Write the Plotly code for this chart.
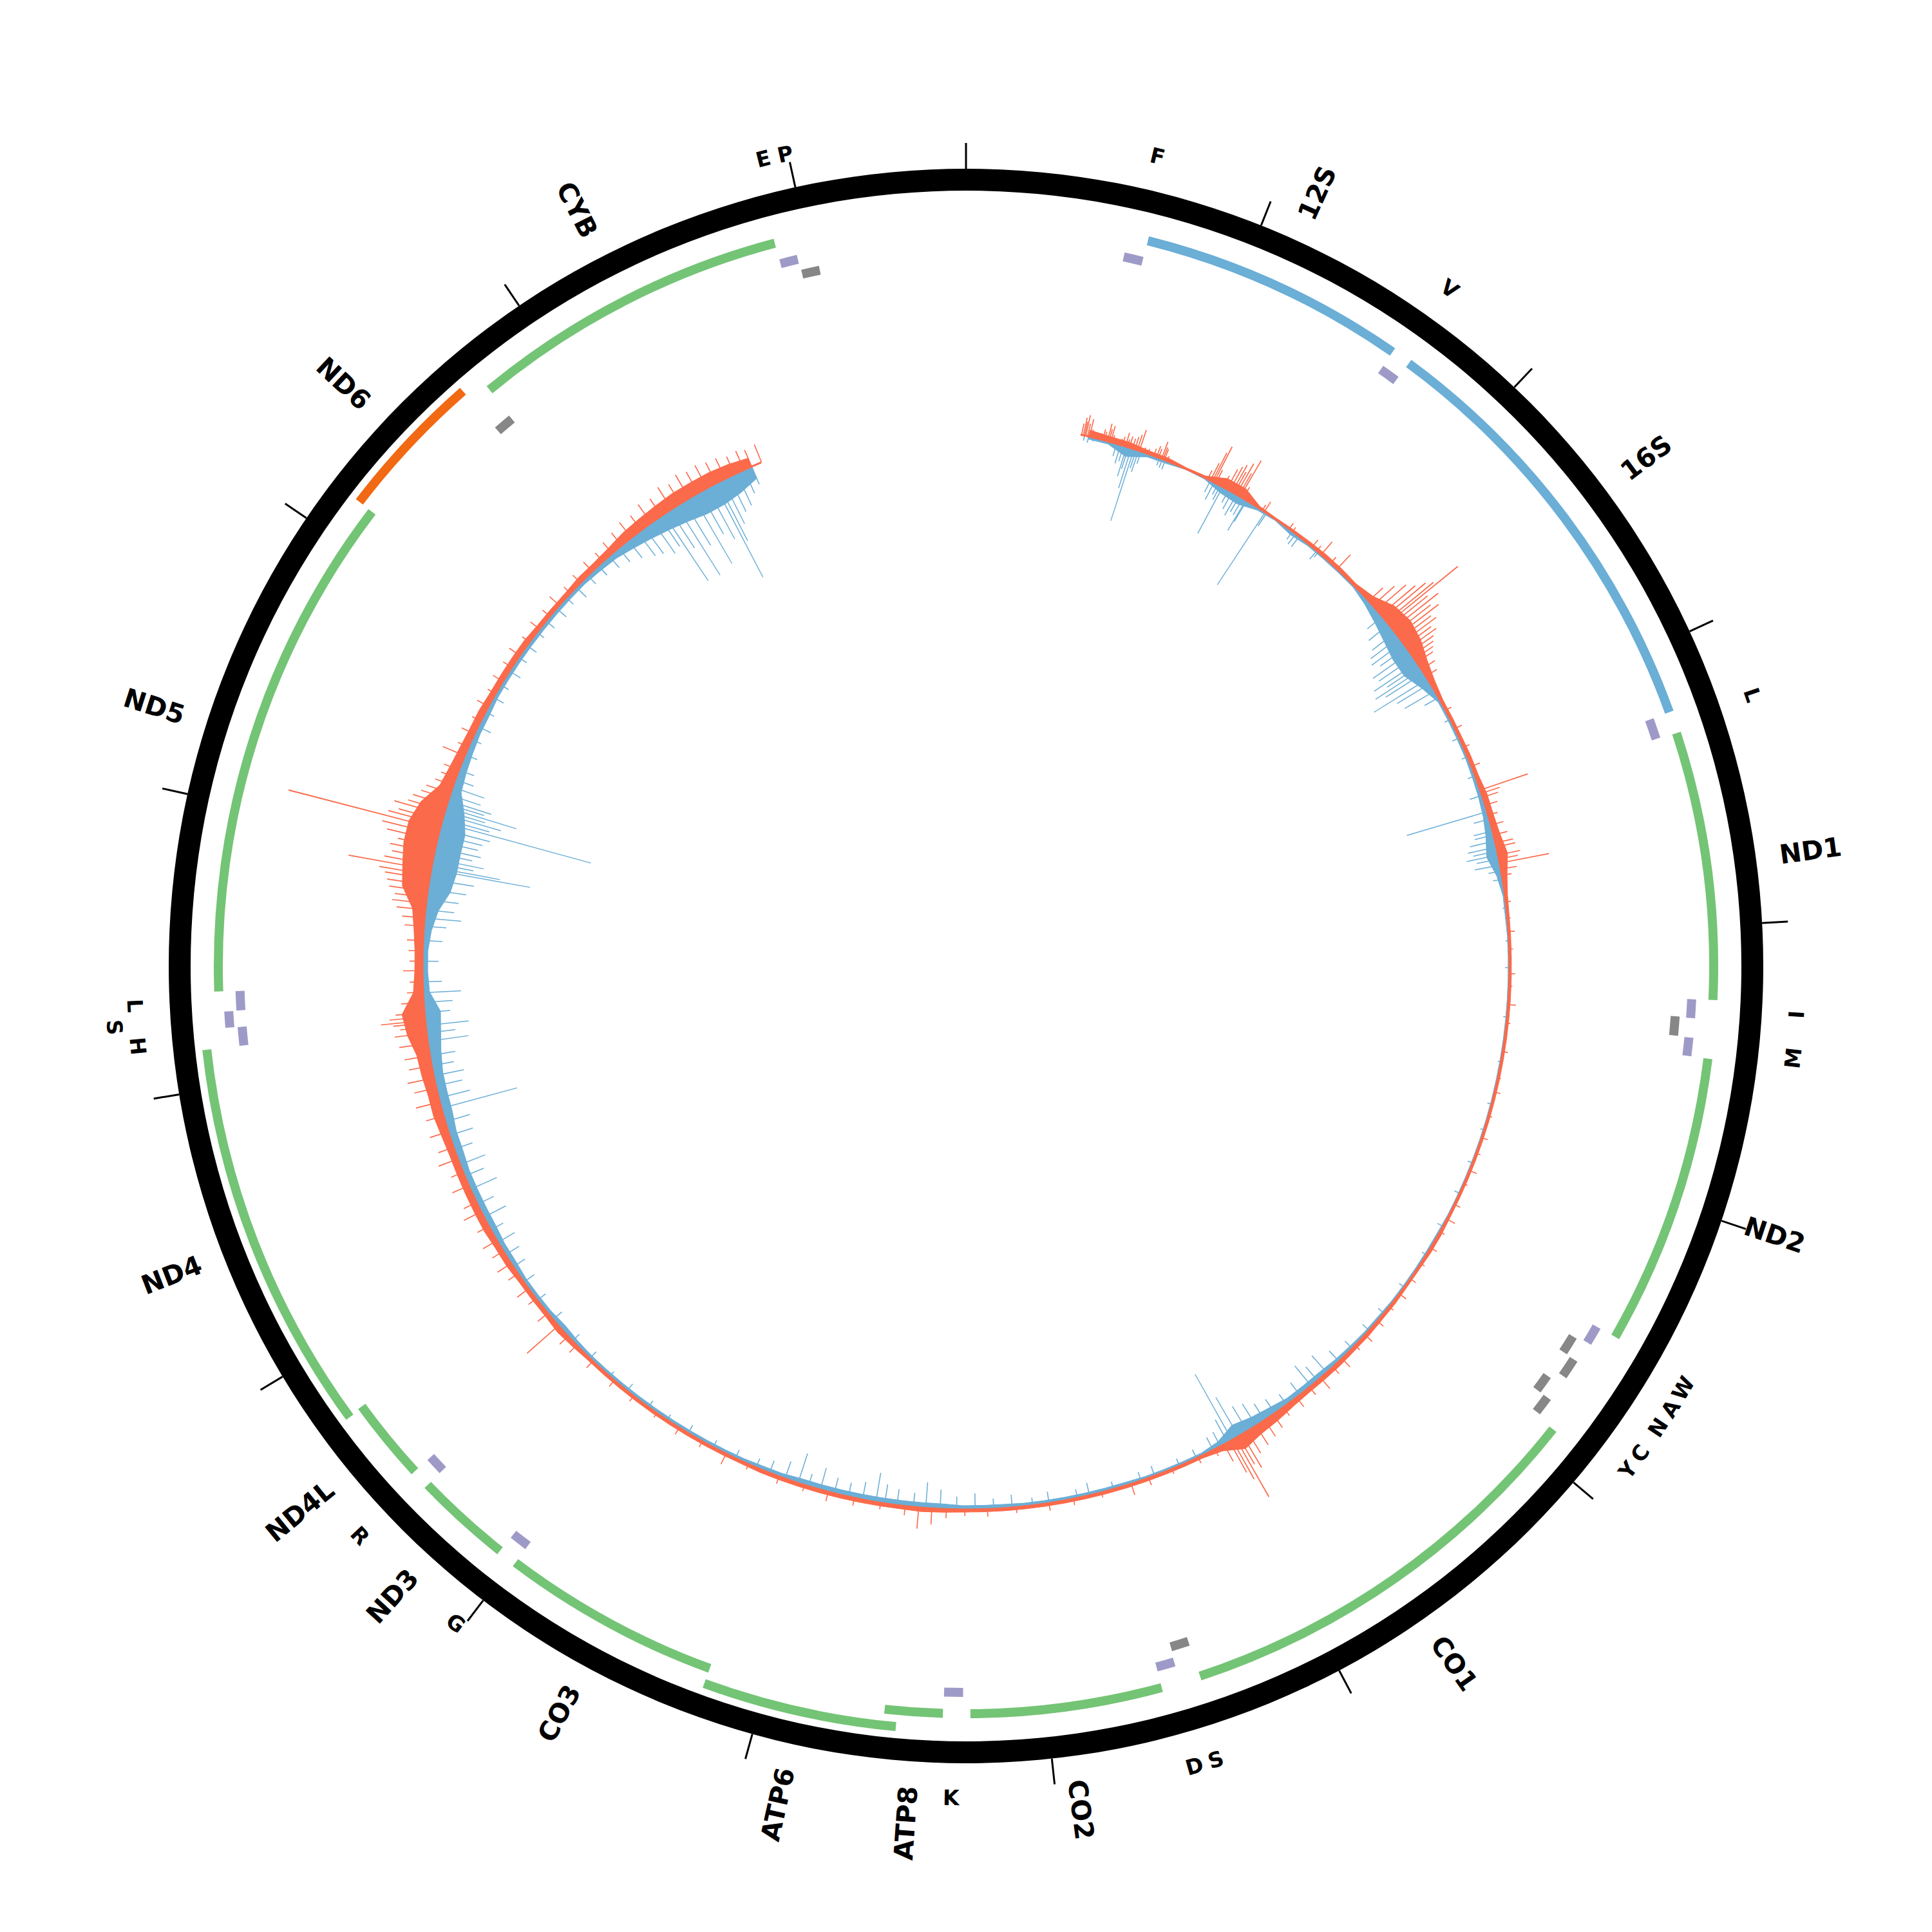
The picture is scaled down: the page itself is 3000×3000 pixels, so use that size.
import numpy as np
import plotly.graph_objects as go

GENOME_LEN = 16569
TICK_STEP = 1000

# ---------------- features (rCRS) ----------------
gene_names = ["12S", "16S", "ND1", "ND2", "CO1", "CO2", "ATP8", "ATP6", "CO3",
              "ND3", "ND4L", "ND4", "ND5", "ND6", "CYB"]
gene_start = [648, 1671, 3307, 4470, 5904, 7586, 8366, 8527, 9207,
              10059, 10470, 10760, 12337, 14149, 14747]
gene_end = [1601, 3229, 4262, 5511, 7445, 8269, 8572, 9207, 9990,
            10404, 10766, 12137, 14148, 14673, 15887]
gene_kind = ["rRNA", "rRNA", "CDS+", "CDS+", "CDS+", "CDS+", "CDS+", "CDS+", "CDS+",
             "CDS+", "CDS+", "CDS+", "CDS+", "CDS-", "CDS+"]
gene_level = [0, 0, 0, 0, 0, 0, 0, 1, 0, 0, 0, 1, 0, 1, 0]

trna_names = ["F", "V", "L", "I", "Q", "M", "W", "A", "N", "C", "Y", "S", "D", "K",
              "G", "R", "H", "S", "L", "E", "T", "P"]
trna_start = [577, 1602, 3230, 4263, 4329, 4402, 5512, 5587, 5657, 5761, 5826, 7446,
              7518, 8295, 9991, 10405, 12138, 12207, 12266, 14674, 15888, 15956]
trna_end = [647, 1670, 3304, 4331, 4400, 4469, 5579, 5655, 5729, 5826, 5891, 7514,
            7585, 8364, 10058, 10469, 12206, 12265, 12336, 14742, 15953, 16023]
trna_strand = ["+", "+", "+", "+", "-", "+", "+", "-", "-", "-", "-", "-",
               "+", "+", "+", "+", "+", "+", "+", "-", "+", "-"]
trna_level = [0, 0, 0, 0, 0, 0, 0, 0, 1, 0, 1, 0, 0, 0, 0, 0, 0, 1, 0, 0, 0, 0]

# tRNA labels as printed on the figure
tlabel_text = ["F", "V", "L", "I", "M", "W", "A", "N", "C", "Y", "S", "D", "K", "G",
               "R", "H", "S", "L", "E", "P"]
tlabel_pos = [612, 1636, 3267, 4297, 4435, 5545, 5621, 5693, 5793, 5858, 7480, 7551,
              8330, 10025, 10437, 12172, 12236, 12301, 15920, 15990]
tlabel_level = [0, 0, 0, 0, 0, 0, 0, 0, 0, 0, 0, 0, 0, 0, 0, 0, 1, 0, 0, 0]

# ---------------- signal track ----------------
core_pos = list(range(600, 15501, 100))
red_core = [10, 8, 8, 5, 5, 2, 3, 15, 15, 3,
            2, 3, 4, 5, 5, 4, 10, 25, 30, 25,
            15, 8, 4, 4, 4, 5, 5, 8, 8, 10,
            15, 8, 4, 3, 3, 3, 3, 3, 3, 3,
            3, 3, 3, 3, 3, 3, 3, 3, 3, 4,
            4, 3, 3, 4, 4, 5, 5, 6, 6, 6,
            8, 12, 15, 22, 8, 4, 4, 4, 4, 4,
            4, 4, 4, 4, 4, 4, 4, 4, 5, 6,
            5, 5, 5, 5, 5, 5, 5, 5, 4, 4,
            4, 4, 4, 4, 4, 4, 4, 4, 6, 8,
            6, 6, 6, 8, 8, 10, 10, 10, 10, 10,
            12, 15, 15, 18, 20, 30, 35, 15, 12, 12,
            15, 20, 40, 45, 50, 50, 40, 20, 15, 12,
            10, 10, 8, 8, 8, 8, 6, 6, 6, 8,
            8, 10, 14, 16, 18, 20, 20, 20, 18, 14]
blue_core = [4, 4, 15, 5, 4, 1, 2, 10, 12, 4,
             2, 6, 3, 3, 3, 3, 8, 15, 22, 28,
             28, 15, 4, 4, 4, 4, 5, 6, 8, 12,
             18, 8, 3, 3, 2, 2, 2, 2, 2, 2,
             2, 2, 2, 2, 2, 2, 2, 2, 2, 3,
             3, 3, 3, 3, 4, 4, 5, 6, 8, 8,
             8, 12, 15, 20, 8, 4, 4, 4, 4, 5,
             5, 5, 5, 5, 5, 6, 6, 6, 8, 8,
             8, 8, 8, 8, 8, 8, 6, 6, 5, 5,
             5, 5, 5, 5, 5, 5, 5, 5, 6, 8,
             6, 6, 6, 8, 8, 10, 10, 10, 10, 12,
             12, 15, 15, 15, 18, 22, 25, 10, 8, 8,
             12, 20, 35, 40, 40, 40, 30, 15, 12, 10,
             8, 8, 6, 6, 6, 6, 6, 6, 6, 6,
             8, 10, 15, 20, 25, 30, 35, 35, 30, 20]

red_spike_pos = [
    565, 574, 580, 586, 595, 605, 615, 640, 660, 671, 680, 694, 702, 711, 720, 740, 760,
    770, 785, 795, 805, 821, 833, 845, 856, 880, 900, 930, 945, 955, 970, 978, 985, 1000,
    1215, 1230, 1240, 1249, 1259, 1300, 1320, 1335, 1349, 1360, 1372, 1385, 1394, 1410,
    1520, 1532, 1679, 1700, 1821, 1850, 1878, 1940, 1982,
    2200, 2230, 2260, 2290, 2310, 2330, 2343, 2360, 2380, 2400, 2420, 2440, 2460, 2480,
    2500, 2520, 2540, 2560, 2580, 2620, 2660,
    2850, 2950, 3050, 3150, 3273, 3290, 3310, 3350, 3400, 3450, 3500, 3540, 3560, 3600,
    3620, 3640, 3670, 3700,
    3830, 3910, 3975, 4060, 4180, 4240, 4330, 4420, 4560, 4690, 4760, 4880, 4990, 5070,
    5160, 5230, 5340, 5420, 5490, 5580, 5670, 5760, 5850, 5930, 6020, 6110, 6180, 6270,
    6330, 6410, 6480, 6560, 6640,
    6700, 6750, 6800, 6850, 6880, 6900, 6917, 6935, 6950, 6980,
    7030, 7120, 7260, 7380, 7470, 7620, 7760, 7880, 8040, 8180, 8290, 8380, 8450, 8514,
    8580, 8700, 8830, 8960, 9080, 9210, 9370, 9490, 9620, 9750, 9880, 10020, 10140,
    10280, 10390, 10450, 10520, 10600, 10690, 10750, 10840, 10900, 10970,
    11030, 11110, 11190, 11240, 11330, 11400, 11470, 11530, 11610, 11690, 11760, 11830,
    11880, 11940, 11990, 12050, 12100,
    12130, 12150, 12162, 12180, 12200, 12250, 12300, 12350, 12404, 12450, 12500, 12550,
    12620, 12660, 12700, 12731, 12760, 12790, 12820, 12850, 12870, 12895, 12920, 12950,
    12980, 13010, 13040, 13070, 13097, 13120, 13140, 13169, 13190, 13220, 13250, 13280,
    13320, 13360, 13400, 13474,
    13520, 13590, 13660, 13740, 13810, 13880, 13960, 14030, 14110, 14190, 14270, 14340,
    14420, 14490, 14570, 14640, 14700,
    14760, 14820, 14880, 14940, 15000, 15060, 15110, 15160, 15210, 15260, 15310, 15360,
    15410, 15460, 15500, 15552]
red_spike_val = [
    18, 28, 22, 33, 20, 28, 12, 6, 10, 17, 14, 28, 20, 26, 12, 8, 10,
    14, 22, 12, 18, 16, 20, 25, 34, 8, 8, 12, 18, 15, 28, 20, 18, 8,
    15, 30, 50, 62, 23, 20, 35, 42, 48, 38, 55, 40, 65, 20,
    10, 18, 11, 8, 14, 10, 26, 12, 30,
    30, 45, 60, 70, 85, 95, 140, 75, 90, 70, 80, 60, 65, 50,
    55, 45, 40, 35, 30, 25, 20,
    10, 12, 10, 14, 78, 30, 25, 20, 15, 20, 22, 28, 30, 35,
    30, 78, 25, 15,
    8, 5, 10, 6, 9, 5, 12, 6, 8, 5, 9, 6, 10, 7,
    12, 6, 10, 14, 8, 11, 7, 10, 13, 8, 12, 15, 10, 18,
    14, 22, 15, 18, 16,
    25, 30, 35, 40, 60, 50, 105, 70, 55, 30,
    12, 10, 8, 12, 18, 8, 10, 12, 9, 12, 10, 14, 25, 33,
    14, 10, 12, 15, 10, 12, 9, 18, 10, 12, 8, 10, 12,
    14, 16, 18, 65, 20, 15, 22, 18, 25, 20,
    25, 20, 30, 22, 28, 20, 32, 25, 30, 28, 38, 35,
    42, 36, 40, 45, 50,
    40, 50, 69, 55, 45, 35, 25, 20, 30, 20, 22, 25,
    30, 35, 45, 53, 50, 60, 65, 70, 80, 130, 75, 65,
    70, 60, 80, 90, 243, 85, 70, 80, 60, 55, 45, 40,
    30, 25, 25, 37,
    18, 22, 15, 20, 14, 18, 16, 20, 14, 18, 15, 20,
    14, 17, 20, 18, 22,
    25, 30, 28, 35, 32, 40, 35, 42, 38, 40, 36, 35,
    30, 32, 28, 30]

blue_spike_pos = [
    580, 600, 625, 740, 760, 775, 791, 800, 815, 829, 840, 852, 865, 960, 975, 990,
    1230, 1250, 1270, 1284, 1297, 1330, 1350, 1374, 1390, 1410, 1427, 1432, 1537, 1545,
    1700, 1719, 1740, 1850, 1860,
    2300, 2350, 2400, 2430, 2460, 2490, 2520, 2550, 2580, 2600, 2620, 2640, 2675, 2700,
    2743, 2780,
    2900, 3000, 3100, 3200, 3300, 3383, 3420, 3480, 3500, 3530, 3560, 3580, 3600, 3620,
    3650, 3680, 3720,
    3860, 4020, 4150, 4390, 4610, 4820, 4950, 5120, 5280, 5460, 5620, 5810, 5970, 6080,
    6200, 6290, 6370, 6430, 6470, 6540, 6620, 6690,
    6750, 6800, 6850, 6900, 6936, 6960, 7000,
    7040, 7130, 7220, 7350, 7420, 7560, 7680, 7740, 7880, 7960, 8060, 8150, 8240, 8330,
    8410, 8480, 8540, 8620, 8680, 8724, 8790, 8860, 8930, 9000, 9060, 9113, 9180, 9260,
    9330, 9440, 9560, 9700, 9820, 9930, 10060, 10170, 10300, 10420, 10560, 10680, 10790,
    10880, 10950,
    11020, 11090, 11160, 11230, 11310, 11380, 11440, 11520, 11590, 11660, 11728, 11780,
    11840, 11890, 11940, 11990,
    12060, 12100, 12137, 12200, 12250, 12297, 12350, 12450, 12550,
    12620, 12660, 12700, 12750, 12800, 12850, 12897, 12910, 12930, 12951, 12980, 13006,
    13040, 13070, 13100, 13133, 13150, 13173, 13190, 13208, 13225, 13242, 13270, 13311,
    13350, 13400,
    13480, 13560, 13630, 13710, 13790, 13860, 13940, 14020, 14090, 14170, 14240, 14320,
    14390, 14460, 14540, 14610, 14680, 14740,
    14800, 14860, 14900, 14950, 14990, 15014, 15050, 15088, 15130, 15180, 15220, 15260,
    15300, 15318, 15345, 15380, 15420, 15460, 15500]
blue_spike_val = [
    8, 10, 6, 20, 30, 25, 48, 35, 65, 117, 30, 35, 20, 12, 14, 15,
    20, 30, 18, 25, 82, 22, 30, 37, 28, 30, 55, 38, 135, 24,
    15, 20, 20, 17, 10,
    30, 40, 45, 55, 60, 50, 70, 65, 80, 60, 85, 70, 98, 60,
    54, 25,
    10, 12, 10, 12, 20, 130, 25, 30, 30, 40, 45, 38, 50, 35,
    40, 20, 15,
    6, 5, 7, 6, 5, 7, 6, 8, 9, 10, 8, 10, 12, 14,
    16, 22, 35, 28, 40, 24, 20, 26,
    30, 40, 45, 70, 117, 40, 25,
    22, 15, 12, 16, 14, 12, 20, 14, 18, 12, 20, 16, 25, 20,
    30, 40, 22, 25, 30, 46, 28, 22, 25, 35, 20, 48, 28, 20,
    15, 14, 12, 14, 10, 12, 14, 10, 14, 15, 18, 16, 20,
    22, 25,
    30, 22, 38, 28, 45, 32, 42, 30, 38, 40, 122, 50,
    42, 48, 35, 40,
    64, 45, 67, 40, 45, 59, 30, 25, 30,
    35, 57, 45, 50, 60, 70, 156, 108, 65, 80, 60, 72,
    65, 70, 80, 240, 75, 92, 65, 114, 60, 70, 50, 52,
    30, 25,
    20, 16, 22, 15, 18, 14, 20, 15, 18, 14, 17, 20,
    15, 22, 18, 20, 24, 28,
    35, 45, 50, 60, 55, 124, 70, 127, 80, 121, 75, 90,
    163, 102, 76, 60, 55, 40, 30]

# ---------------- geometry / style ----------------
PAGE = 3000
BODY_OFFSET = 8            # browser default page margin
R_PIX = (PAGE - 2 * BODY_OFFSET) / 2   # polar radius in px, centre at page 1500
BASE_R = 844
RING_R0, RING_W = 1204, 34
TICK_R0, TICK_R1 = 1238, 1278
GENE_R = [1161, 1186]
GENE_W = 14
TRNA_R = {"+": [1128, 1147], "-": [1104, 1124]}
TRNA_W = 14
GLABEL_R0 = 1275
TLABEL_R = [1292, 1326]
GFONT, TFONT = 41, 33
SPIKE_BP = 5

RED, BLUE = "#fb6a4a", "#6baed6"
kind_color = {"rRNA": "#6baed6", "CDS+": "#74c476", "CDS-": "#f16913"}
trna_color = {"+": "#9e9ac8", "-": "#878787"}


def deg(bp):
    return np.asarray(bp, dtype=float) / GENOME_LEN * 360.0


fig = go.Figure()

# signal: dense core as filled areas
core_theta = list(deg(core_pos))
for vals, sign, col in [(red_core, 1, RED), (blue_core, -1, BLUE)]:
    outer = [BASE_R + sign * v for v in vals]
    th = core_theta + core_theta[::-1] + [core_theta[0]]
    rr = outer + [BASE_R] * len(vals) + [outer[0]]
    fig.add_trace(go.Scatterpolar(theta=th, r=rr, mode="lines", fill="toself",
                                  fillcolor=col, line=dict(color=col, width=1)))
# signal: needles
fig.add_trace(go.Barpolar(theta=deg(red_spike_pos), r=red_spike_val,
                          base=[BASE_R] * len(red_spike_val),
                          width=[float(deg(SPIKE_BP))] * len(red_spike_val),
                          marker=dict(color=RED, line=dict(width=0))))
fig.add_trace(go.Barpolar(theta=deg(blue_spike_pos), r=blue_spike_val,
                          base=[BASE_R - v for v in blue_spike_val],
                          width=[float(deg(SPIKE_BP))] * len(blue_spike_val),
                          marker=dict(color=BLUE, line=dict(width=0))))
# baseline
bl_theta = np.linspace(float(deg(core_pos[0] - 40)), float(deg(core_pos[-1] + 50)), 400)
fig.add_trace(go.Scatterpolar(theta=bl_theta, r=[BASE_R] * len(bl_theta), mode="lines",
                              line=dict(color=RED, width=3)))

# outer ring
fig.add_trace(go.Barpolar(theta=[45, 135, 225, 315], r=[RING_W] * 4, base=[RING_R0] * 4,
                          width=[90.6] * 4, marker=dict(color="black", line=dict(width=0))))

# ticks
tick_pos = list(range(0, GENOME_LEN, TICK_STEP))
tt, tr = [], []
for p in tick_pos:
    tt += [float(deg(p)), float(deg(p)), None]
    tr += [TICK_R0, TICK_R1, None]
fig.add_trace(go.Scatterpolar(theta=tt, r=tr, mode="lines",
                              line=dict(color="black", width=3)))

# genes
for s, e, k, lv in zip(gene_start, gene_end, gene_kind, gene_level):
    c = (s + e) / 2
    fig.add_trace(go.Barpolar(theta=[float(deg(c))], r=[GENE_W],
                              base=[GENE_R[lv] - GENE_W / 2], width=[float(deg(e - s))],
                              marker=dict(color=kind_color[k], line=dict(width=0))))
# tRNAs
for s, e, st, lv in zip(trna_start, trna_end, trna_strand, trna_level):
    c = (s + e) / 2
    fig.add_trace(go.Barpolar(theta=[float(deg(c))], r=[TRNA_W],
                              base=[TRNA_R[st][lv] - TRNA_W / 2], width=[float(deg(e - s))],
                              marker=dict(color=trna_color[st], line=dict(width=0))))

# ---------------- labels ----------------
BOLD_W = {"A": .774, "B": .762, "C": .734, "D": .830, "L": .637, "N": .837, "O": .850,
          "P": .733, "S": .720, "T": .682, "Y": .724}


def to_paper(theta_deg, r):
    t = np.radians(theta_deg)
    return ((R_PIX + r * np.sin(t)) / PAGE,
            (PAGE - R_PIX + r * np.cos(t)) / PAGE)


annotations = []
for name, s, e in zip(gene_names, gene_start, gene_end):
    th = float(deg((s + e) / 2))
    length = sum(BOLD_W.get(ch, .696) for ch in name) * GFONT
    x, y = to_paper(th, GLABEL_R0 + length / 2)
    ang = th - 90 if th <= 180 else th - 270
    annotations.append(dict(x=x, y=y, xref="paper", yref="paper", text=name, showarrow=False,
                            textangle=ang, xanchor="center", yanchor="middle",
                            font=dict(family="DejaVu Sans", size=GFONT, color="black",
                                      weight="bold")))
for txt, p, lv in zip(tlabel_text, tlabel_pos, tlabel_level):
    th = float(deg(p))
    x, y = to_paper(th, TLABEL_R[lv])
    if 90 < th < 270:
        ang = th - 180
    elif th >= 270:
        ang = th - 360
    else:
        ang = th
    annotations.append(dict(x=x, y=y, xref="paper", yref="paper", text=txt, showarrow=False,
                            textangle=ang, xanchor="center", yanchor="middle",
                            font=dict(family="DejaVu Sans", size=TFONT, color="black",
                                      weight="bold")))

dom = 2 * R_PIX / PAGE
fig.update_layout(
    width=PAGE, height=PAGE, margin=dict(l=0, r=0, t=0, b=0),
    paper_bgcolor="white", plot_bgcolor="white", showlegend=False,
    polar=dict(domain=dict(x=[0, dom], y=[1 - dom, 1]), bgcolor="white",
               radialaxis=dict(visible=False, range=[0, R_PIX]),
               angularaxis=dict(visible=False, rotation=90, direction="clockwise")),
    annotations=annotations,
)
fig.write_html("out.html")
